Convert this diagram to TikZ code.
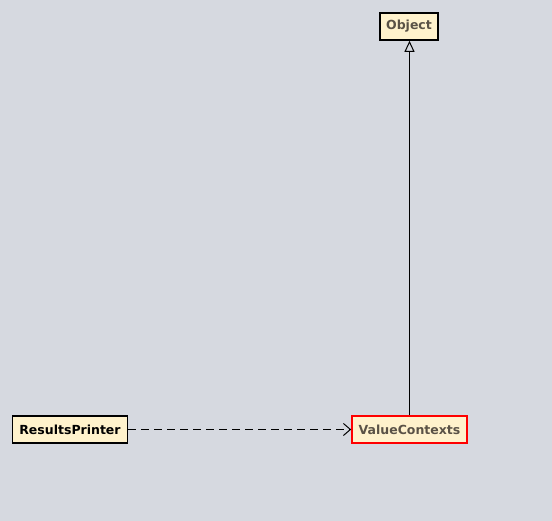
\documentclass[tikz,border=0pt]{standalone}
\usepackage{fontspec}
\setmainfont{DejaVu Sans}
\usetikzlibrary{arrows.meta}
\definecolor{bgcol}{RGB}{214,217,224}
\definecolor{boxfill}{RGB}{255,242,204}
\definecolor{dimtext}{RGB}{90,82,70}
\begin{document}
\begin{tikzpicture}[x=1pt,y=-1pt,
  classbox/.style={draw=black,line width=1.6pt,fill=boxfill,inner sep=0pt,
    minimum height=27pt,font=\bfseries\fontsize{12.5}{14}\selectfont},
  inherit/.style={-{Triangle[open,length=11pt,width=10pt]},line width=1pt},
  uses/.style={-{Straight Barb[length=7pt,width=12pt]},dash pattern=on 8pt off 5pt,line width=1pt}]
  \fill[bgcol] (0,0) rectangle (552,521);
  \useasboundingbox (0,0) rectangle (552,521);
  \node[classbox,minimum width=58pt,text=dimtext] (object) at (409,26.5) {Object};
  \node[classbox,minimum width=115pt] (printer) at (70,429.5) {ResultsPrinter};
  \node[classbox,draw=red,minimum width=115pt,text=dimtext] (contexts) at (409.5,429.5) {ValueContexts};
  \draw[inherit] (contexts.north) -- (contexts.north |- object.south);
  \draw[uses] (printer.east) -- (contexts.west);
\end{tikzpicture}
\end{document}
